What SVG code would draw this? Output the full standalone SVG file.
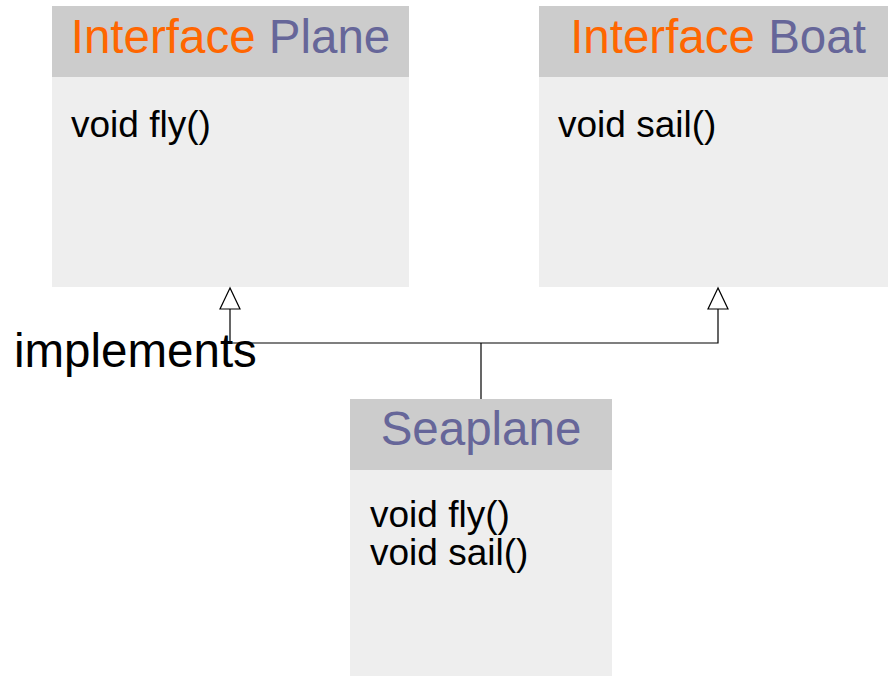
<svg xmlns="http://www.w3.org/2000/svg" width="888" height="677" viewBox="0 0 888 677">
<style>
text{font-family:"Liberation Sans",Arial,Helvetica,sans-serif}
.hd{fill:#cccccc}
.bd{fill:#eeeeee}
.title{font-size:47.5px;text-anchor:middle}
.kw{fill:#ff6600}
.nm{fill:#666699}
.op{font-size:37px;fill:#000}
.ln{fill:none;stroke:#000;stroke-width:1.2}
.ah{fill:#fff;stroke:#000;stroke-width:1.2}
</style>
<rect width="888" height="677" fill="#fff"/>
<g id="plane">
<rect class="bd" x="52" y="6" width="357" height="281"/>
<rect class="hd" x="52" y="6" width="357" height="71"/>
<text class="title" x="230.5" y="53"><tspan class="kw">Interface</tspan> <tspan class="nm">Plane</tspan></text>
<text class="op" x="71" y="137">void fly()</text>
</g>
<g id="boat">
<rect class="bd" x="539" y="6" width="358" height="281"/>
<rect class="hd" x="539" y="6" width="358" height="71"/>
<text class="title" x="718" y="53"><tspan class="kw">Interface</tspan> <tspan class="nm">Boat</tspan></text>
<text class="op" x="558" y="137">void sail()</text>
</g>
<g id="seaplane">
<rect class="bd" x="350" y="399" width="262" height="277"/>
<rect class="hd" x="350" y="399" width="262" height="71"/>
<text class="title nm" x="481" y="445">Seaplane</text>
<text class="op" x="370" y="527">void fly()</text>
<text class="op" x="370" y="565">void sail()</text>
</g>
<g id="connectors">
<polyline class="ln" points="481,399 481,343"/>
<polyline class="ln" points="230,309 230,343 718,343 718,309"/>
<polygon class="ah" points="230,288 220,309 240,309"/>
<polygon class="ah" points="718,288 708,309 728,309"/>
<text x="14" y="367" font-size="47.5" fill="#000">implements</text>
</g>
</svg>
